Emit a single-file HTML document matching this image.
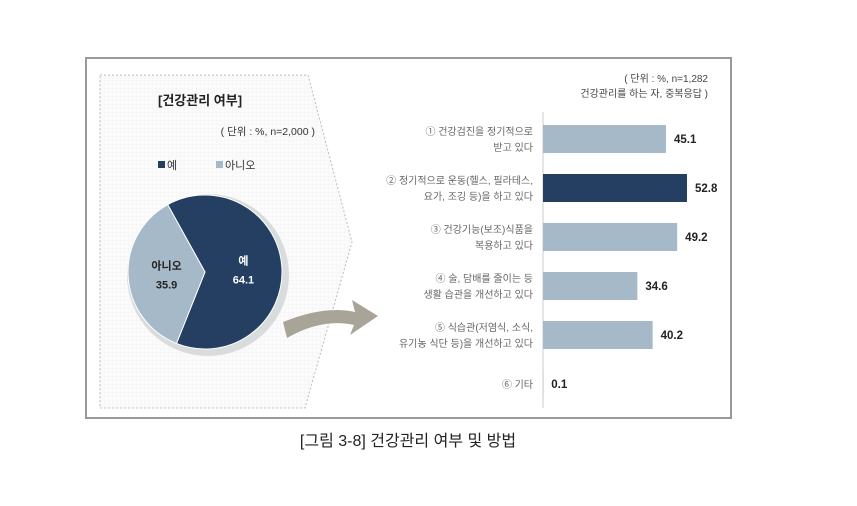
<!DOCTYPE html>
<html><head><meta charset="utf-8"><style>
body{margin:0;background:#fff;}
svg text{font-family:"Liberation Sans","Noto Sans CJK KR",sans-serif;}
</style></head><body>
<svg width="857" height="501" viewBox="0 0 857 501">
<defs><pattern id="grid" width="4" height="4" patternUnits="userSpaceOnUse"><rect width="4" height="4" fill="#fbfbfb"/><path d="M0 0H4M0 0V4" stroke="#eeeeee" stroke-width="0.5"/></pattern></defs>
<rect x="86" y="58" width="645" height="360" fill="#fff" stroke="#999" stroke-width="2"/>
<polygon points="100,75 308,75 352,242 305,408 100,408" fill="url(#grid)" stroke="#bbb" stroke-dasharray="2,2"/>
<text x="158" y="105" font-size="13" font-weight="bold" fill="#222">[건강관리 여부]</text>
<text x="315" y="135" font-size="10.5" fill="#333" text-anchor="end">( 단위 : %, n=2,000 )</text>
<rect x="158" y="161" width="7" height="7" fill="#243f61"/>
<text x="167" y="169" font-size="11" fill="#333">예</text>
<rect x="216" y="161" width="7" height="7" fill="#a6b9c9"/>
<text x="225" y="169" font-size="11" fill="#333">아니오</text>
<g id="pie"></g>
<path d="M283,322 Q325,305 355,312 L352,300 L378,316 L350,335 L354,325 Q322,318 287,338 Z" fill="#a8a497"/>
<text x="708" y="82" font-size="10" fill="#444" text-anchor="end">( 단위 : %, n=1,282</text>
<text x="708" y="97" font-size="10" fill="#444" text-anchor="end">건강관리를 하는 자, 중복응답 )</text>
<line x1="543" y1="112" x2="543" y2="408" stroke="#ccc"/>
<g id="bars"></g>
<text x="408" y="446" font-size="16" fill="#222" text-anchor="middle">[그림 3-8] 건강관리 여부 및 방법</text>
</svg>
<script>
const pieLabels=["예","아니오"];
const pieValues=[64.1,35.9];
const barLabels=[["① 건강검진을 정기적으로","받고 있다"],["② 정기적으로 운동(헬스, 필라테스,","요가, 조깅 등)을 하고 있다"],["③ 건강기능(보조)식품을","복용하고 있다"],["④ 술, 담배를 줄이는 등","생활 습관을 개선하고 있다"],["⑤ 식습관(저염식, 소식,","유기농 식단 등)을 개선하고 있다"],["⑥ 기타"]];
const barValues=[45.1,52.8,49.2,34.6,40.2,0.1];
const NS="http://www.w3.org/2000/svg";
function mk(t,a,p){const e=document.createElementNS(NS,t);for(const k in a)e.setAttribute(k,a[k]);p.appendChild(e);return e;}
// pie
const pie=document.getElementById('pie');
const cx=205,cy=272,r=77,start=-29;
const tot=pieValues.reduce((a,b)=>a+b,0);
const sh=mk('circle',{cx:cx+3,cy:cy+3,r:r+4,fill:'#d9dcdc'},pie);


let ang=start;const cols=['#243f61','#a6b9c9'];
function pt(a,rr){const t=a*Math.PI/180;return [cx+rr*Math.sin(t),cy-rr*Math.cos(t)];}
pieValues.forEach((v,i)=>{const sweep=v/tot*360;const a0=pt(ang,r),a1=pt(ang+sweep,r);
const p=mk('path',{d:`M${cx},${cy}L${a0[0]},${a0[1]}A${r},${r} 0 ${sweep>180?1:0} 1 ${a1[0]},${a1[1]}Z`,fill:cols[i],stroke:'#fff','stroke-width':1},pie);


const m=ang+sweep/2;const lp=pt(m,r*0.5);const fc=i==0?'#fff':'#222';
const t1=mk('text',{x:lp[0],y:lp[1]-5,'font-size':11,'font-weight':'bold',fill:fc,'text-anchor':'middle'},pie);t1.textContent=pieLabels[i];


const t2=mk('text',{x:lp[0],y:lp[1]+14,'font-size':11,'font-weight':'bold',fill:fc,'text-anchor':'middle'},pie);t2.textContent=v.toFixed(1);


ang+=sweep;});
// bars
const bars=document.getElementById('bars');
const x0=543,scale=123/45.1;
function xs(v){return x0+v*scale;}
function yc(i){return 139+i*49;}
const maxI=barValues.indexOf(Math.max(...barValues));
barValues.forEach((v,i)=>{
const b=mk('rect',{x:x0,y:yc(i)-14,width:xs(v)-x0,height:28,fill:i==maxI?'#243f61':'#a6b9c9'},bars);


const t=mk('text',{x:xs(v)+8,y:yc(i)+4,'font-size':11.5,'font-weight':'bold',fill:'#222'},bars);t.textContent=v.toFixed(1);


const L=barLabels[i];
L.forEach((s,j)=>{const ty=L.length==1?yc(i)+4:yc(i)-4+j*16;
const lt=mk('text',{x:533,y:ty,'font-size':10,fill:'#666','text-anchor':'end'},bars);lt.textContent=s;

});
});
</script>
</body></html>
